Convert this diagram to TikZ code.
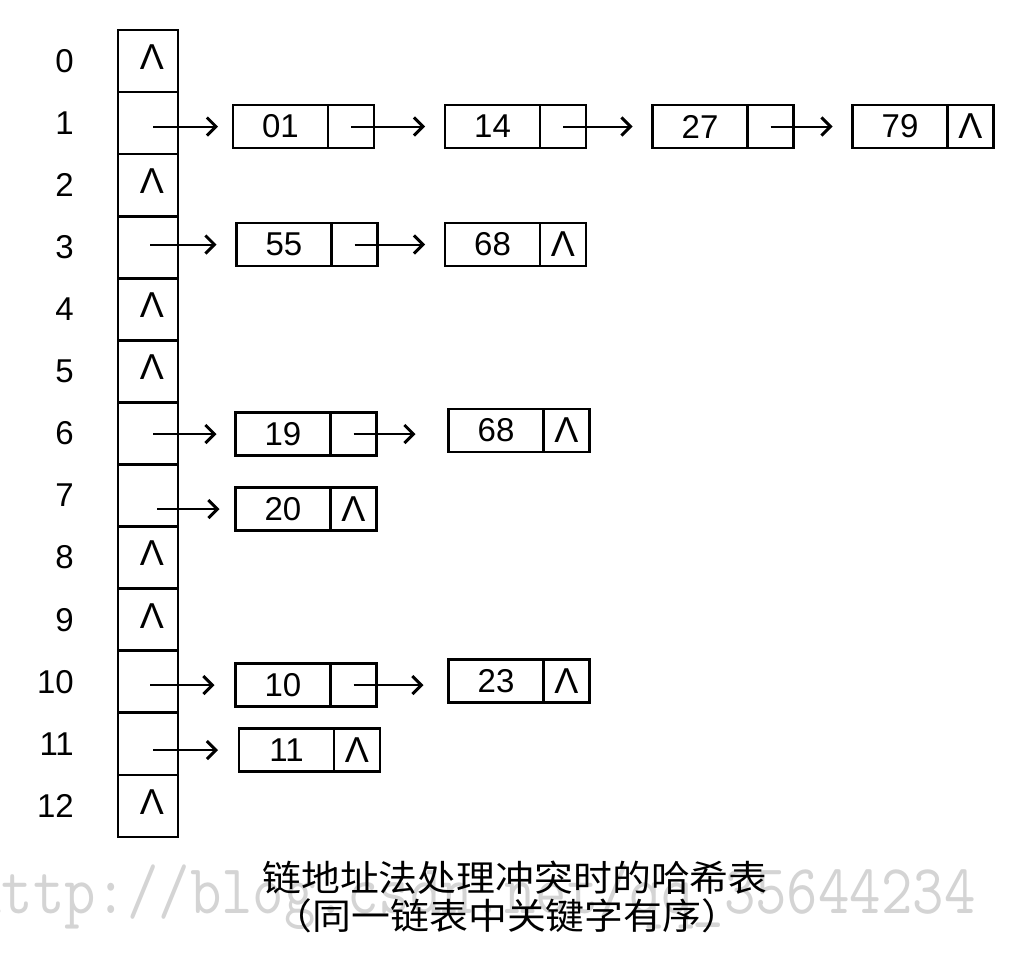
\documentclass[tikz,border=0pt]{standalone}
\usepackage{fontspec}
\usepackage{graphicx}
\setmainfont{Liberation Sans}
\newfontfamily\cjkfont{Noto Sans CJK SC}
\usetikzlibrary{arrows.meta,calc}
\begin{document}
\begin{tikzpicture}[x=1pt,y=-1pt,
  cell/.style={draw,line width=2.6pt,minimum width=60pt,minimum height=62.07pt,inner sep=0pt,outer sep=0pt,font=\fontsize{38}{38}\selectfont},
  dat/.style={draw,line width=2.6pt,minimum width=95pt,minimum height=43pt,inner sep=0pt,outer sep=0pt,font=\fontsize{33}{33}\selectfont},
  ptr/.style={draw,line width=2.6pt,minimum width=46pt,minimum height=43pt,inner sep=0pt,outer sep=0pt,anchor=west,font=\fontsize{36}{36}\selectfont},
  idx/.style={anchor=east,inner sep=0pt,font=\fontsize{33}{33}\selectfont},
  nul/.style={inner sep=0pt,font=\fontsize{36}{36}\selectfont},
  link/.style={line width=2pt,-{Straight Barb[length=9pt,width=18pt,line width=3pt]},shorten >=20pt},
  captxt/.style={inner sep=0pt,font=\cjkfont\fontsize{36}{36}\selectfont},
  wm/.style={anchor=base west,inner sep=0pt,text=black!17,font=\ttfamily\fontsize{61}{61}\selectfont}
]
\useasboundingbox (0,0) rectangle (1024,959);
\fill[white] (0,0) rectangle (1024,959);
% watermark
\begin{scope}
\clip (0,0) rectangle (1024,959);
\node[wm] (wmark) at (-30,913) {\scalebox{1}[1.15]{http://blog.csdn.net/qq\_35644234}};
\end{scope}
% table
\foreach \i in {0,...,12}{
  \node[cell] (t\i) at (148,{30+62.07*(\i+0.5)}) {};
  \node[idx] (n\i) at (74,{30+62.07*(\i+0.5)}) {\i};
}
\foreach \i in {0,2,4,5,8,9,12}{
  \node[nul] (z\i) at ($(t\i.center)+(4,-4)$) {Λ};
}
% row 1
\node[dat] (d01) at (280.5,126.5) {01};
\node[ptr] (p01) at (d01.east) {};
\node[dat] (d14) at (492.5,126.5) {14};
\node[ptr] (p14) at (d14.east) {};
\node[dat] (d27) at (700,126.5) {27};
\node[ptr] (p27) at (d27.east) {};
\node[dat] (d79) at (900,126.5) {79};
\node[ptr] (p79) at (d79.east) {Λ};
\draw[link,shorten >=15pt] ($(d01.west -| t1.center)+(5,0)$) -- (d01.west);
\draw[link] (p01.center) -- (p01.center -| d14.west);
\draw[link] (p14.center) -- (p14.center -| d27.west);
\draw[link] (p27.center) -- (p27.center -| d79.west);
% row 3
\node[dat] (d55) at (284,244.5) {55};
\node[ptr] (p55) at (d55.east) {};
\node[dat] (d68a) at (492.5,244.5) {68};
\node[ptr] (p68a) at (d68a.east) {Λ};
\draw[link] ($(d55.west -| t3.center)+(2,0)$) -- (d55.west);
\draw[link] (p55.center) -- (p55.center -| d68a.west);
% row 6
\node[dat] (d19) at (283,434) {19};
\node[ptr] (p19) at (d19.east) {};
\node[dat] (d68b) at (496,430.5) {68};
\node[ptr] (p68b) at (d68b.east) {Λ};
\draw[link,shorten >=19pt] ($(d19.west -| t6.center)+(5,0)$) -- (d19.west);
\draw[link,shorten >=33pt] (p19.center) -- (p19.center -| d68b.west);
% row 7
\node[dat] (d20) at (283,509) {20};
\node[ptr] (p20) at (d20.east) {Λ};
\draw[link,shorten >=16pt] ($(d20.west -| t7.center)+(9,0)$) -- (d20.west);
% row 10
\node[dat] (d10) at (283,685) {10};
\node[ptr] (p10) at (d10.east) {};
\node[dat] (d23) at (496,681) {23};
\node[ptr] (p23) at (d23.east) {Λ};
\draw[link,shorten >=21pt] ($(d10.west -| t10.center)+(2,0)$) -- (d10.west);
\draw[link,shorten >=25pt] (p10.center) -- (p10.center -| d23.west);
% row 11
\node[dat] (d11) at (286.5,750) {11};
\node[ptr] (p11) at (d11.east) {Λ};
\draw[link,shorten >=21pt] ($(d11.west -| t11.center)+(5,0)$) -- (d11.west);
% caption
\node[captxt] (c1) at (515,878) {\scalebox{1.08}[1]{链地址法处理冲突时的哈希表}};
\node[captxt] (c2) at (507,916) {\scalebox{1.08}[1]{（同一链表中关键字有序）}};
\end{tikzpicture}
\end{document}
